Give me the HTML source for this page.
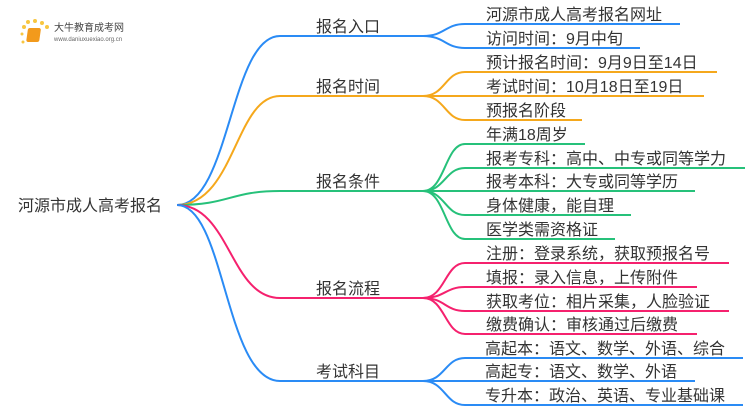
<!DOCTYPE html>
<html><head><meta charset="utf-8"><style>
body{margin:0;width:750px;height:410px;background:#fff;overflow:hidden}
svg text{font-family:"Liberation Sans","Noto Sans CJK SC",sans-serif;fill:#333}
</style></head><body>
<svg width="750" height="410" viewBox="0 0 750 410" xmlns="http://www.w3.org/2000/svg">
<g fill="none" stroke-width="2">
<path d="M177 205 C230 205,230 36,280 36 L423 36" stroke="#2a8bf5"/>
<path d="M177 205 C235 205,235 96,280 96 L423 96" stroke="#f5a81c"/>
<path d="M177 205 C230 205,230 191,280 191 L423 191" stroke="#26c17a"/>
<path d="M177 205 C230 205,230 298,280 298 L423 298" stroke="#f5216e"/>
<path d="M177 205 C225 205,225 381,280 381 L423 381" stroke="#2a8bf5"/>
<g stroke="#2a8bf5">
<path d="M423 36 C445 36,445 24,465 24 L680 24"/>
<path d="M423 36 C445 36,445 48,465 48 L640 48"/>
</g>
<g stroke="#f5a81c">
<path d="M423 96 C445 96,445 72,465 72 L717 72"/>
<path d="M423 96 L704 96"/>
<path d="M423 96 C445 96,445 120,465 120 L582 120"/>
</g>
<g stroke="#26c17a">
<path d="M423 191 C445 191,445 144,465 144 L585 144"/>
<path d="M423 191 C445 191,445 168,465 168 L745 168"/>
<path d="M423 191 L695 191"/>
<path d="M423 191 C445 191,445 215,465 215 L631 215"/>
<path d="M423 191 C445 191,445 239,465 239 L615 239"/>
</g>
<g stroke="#f5216e">
<path d="M423 298 C445 298,445 263,465 263 L729 263"/>
<path d="M423 298 C445 298,445 287,465 287 L697 287"/>
<path d="M423 298 C445 298,445 311,465 311 L729 311"/>
<path d="M423 298 C445 298,445 334,465 334 L697 334"/>
</g>
<g stroke="#2a8bf5">
<path d="M423 381 C445 381,445 358,465 358 L743 358"/>
<path d="M423 381 L695 381"/>
<path d="M423 381 C445 381,445 405,465 405 L743 405"/>
</g>
</g>
<g>
<circle cx="24" cy="27" r="2" fill="#f8c640"/><circle cx="28" cy="22" r="2" fill="#f8c640"/><circle cx="35" cy="21" r="2" fill="#f8c640"/><circle cx="42" cy="23" r="2" fill="#f8c640"/><circle cx="47" cy="27" r="2" fill="#f8c640"/><circle cx="22" cy="34" r="1.5" fill="#f8c640"/><circle cx="23" cy="42" r="1.5" fill="#f8c640"/>
<rect x="32" y="28" width="13" height="14" rx="2" fill="#f29a1c" transform="skewX(-8)"/>
<text x="54" y="31" font-size="10" style="fill:#444">大牛教育成考网</text>
<text x="54" y="41" font-size="6" style="fill:#666">www.daniuxuexiao.org.cn</text>
</g>
<text x="18" y="211" font-size="16">河源市成人高考报名</text>
<g font-size="16">
<text x="316" y="32">报名入口</text>
<text x="316" y="92">报名时间</text>
<text x="316" y="187">报名条件</text>
<text x="316" y="294">报名流程</text>
<text x="316" y="377">考试科目</text>
</g>
<g font-size="16">
<text x="486" y="20">河源市成人高考报名网址</text>
<text x="486" y="44">访问时间：9月中旬</text>
<text x="486" y="68">预计报名时间：9月9日至14日</text>
<text x="486" y="92">考试时间：10月18日至19日</text>
<text x="486" y="116">预报名阶段</text>
<text x="486" y="140">年满18周岁</text>
<text x="486" y="164">报考专科：高中、中专或同等学力</text>
<text x="486" y="187">报考本科：大专或同等学历</text>
<text x="486" y="211">身体健康，能自理</text>
<text x="486" y="235">医学类需资格证</text>
<text x="486" y="259">注册：登录系统，获取预报名号</text>
<text x="486" y="283">填报：录入信息，上传附件</text>
<text x="486" y="307">获取考位：相片采集，人脸验证</text>
<text x="486" y="330">缴费确认：审核通过后缴费</text>
<text x="485" y="354">高起本：语文、数学、外语、综合</text>
<text x="485" y="377">高起专：语文、数学、外语</text>
<text x="485" y="401">专升本：政治、英语、专业基础课</text>
</g>
</svg>
</body></html>
